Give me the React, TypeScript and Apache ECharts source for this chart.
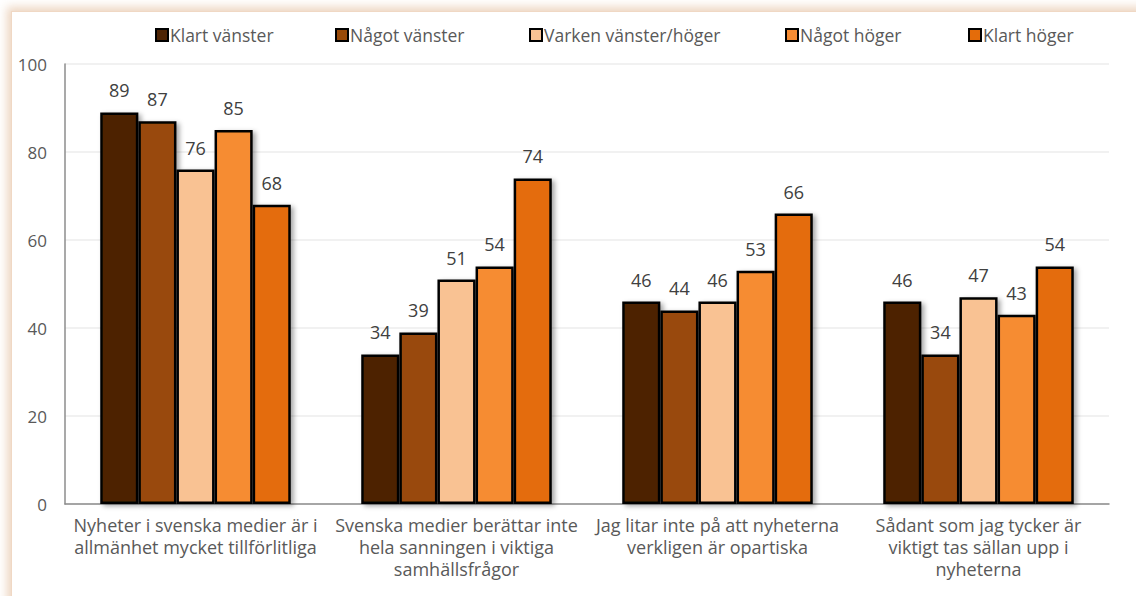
import React, { useEffect, useRef } from "react";
import * as echarts from "echarts";

const categories = [
  "Nyheter i svenska medier är i\nallmänhet mycket tillförlitliga",
  "Svenska medier berättar inte\nhela sanningen i viktiga\nsamhällsfrågor",
  "Jag litar inte på att nyheterna\nverkligen är opartiska",
  "Sådant som jag tycker är\nviktigt tas sällan upp i\nnyheterna",
];
const seriesNames = ["Klart vänster", "Något vänster", "Varken vänster/höger", "Något höger", "Klart höger"];
const klartVanster = [89, 34, 46, 46];
const nagotVanster = [87, 39, 44, 34];
const varken = [76, 51, 46, 47];
const nagotHoger = [85, 54, 53, 43];
const klartHoger = [68, 74, 66, 54];
const colors = ["#4E2404", "#994A08", "#F9C293", "#F68C33", "#E46C0A"];
const yTicks = [0, 20, 40, 60, 80, 100];
const legendLefts = [150, 330, 524, 780, 963];

const FONT = "'Open Sans', 'Noto Sans', sans-serif";

export default function App() {
  const ref = useRef<HTMLDivElement>(null);
  useEffect(() => {
    if (!ref.current) return;
    const chart = echarts.init(ref.current, null, { renderer: "svg" });
    const values = [klartVanster, nagotVanster, varken, nagotHoger, klartHoger];
    chart.setOption({
      animation: false,
      backgroundColor: "transparent",
      textStyle: { fontFamily: FONT },
      legend: seriesNames.map((n, i) => ({
        top: 21,
        left: legendLefts[i],
        itemWidth: 12,
        itemHeight: 12,
        icon: "rect",
        textStyle: { color: "#595959", fontSize: 17.5, fontFamily: FONT, padding: [0, 0, 0, -3] },
        data: [{ name: n, itemStyle: { color: colors[i], borderColor: "#000", borderWidth: 2 } }],
      })),
      grid: { left: 65, right: 27, top: 64, bottom: 92, containLabel: false },
      xAxis: {
        type: "category",
        data: categories,
        axisLine: { lineStyle: { color: "#8c8c8c", width: 1.5 } },
        axisTick: { show: false },
        axisLabel: {
          color: "#595959",
          fontSize: 18,
          lineHeight: 22,
          margin: 10,
          interval: 0,
          fontFamily: FONT,
        },
      },
      yAxis: {
        type: "value",
        min: 0,
        max: 100,
        interval: 20,
        axisLine: { show: true, lineStyle: { color: "#8c8c8c", width: 1.5 } },
        axisTick: { show: false },
        axisLabel: {
          color: "#595959",
          fontSize: 17,
          margin: 18,
          fontFamily: FONT,
          formatter: (v: number) => (yTicks.includes(v) ? String(v) : ""),
        },
        splitLine: { lineStyle: { color: "#ececec", width: 1.5 } },
      },
      series: seriesNames.map((n, i) => ({
        name: n,
        type: "bar",
        data: values[i],
        barGap: "0%",
        barCategoryGap: "27%",
        itemStyle: {
          color: colors[i],
          borderColor: "#000",
          borderWidth: 2.5,
          shadowColor: "rgba(0,0,0,0.35)",
          shadowBlur: 5,
          shadowOffsetX: 3,
          shadowOffsetY: 2,
        },
        label: {
          show: true,
          position: "top",
          distance: 13,
          color: "#404040",
          fontSize: 18,
          fontFamily: FONT,
        },
      })),
    });
    return () => chart.dispose();
  }, []);
  return (
    <div style={{ position: "fixed", left: 0, top: 0, width: 1136, height: 596, background: "#fff", overflow: "hidden" }}>
      <div
        style={{
          position: "absolute",
          left: 11,
          top: 11,
          width: 1200,
          height: 700,
          background: "#fff",
          borderLeft: "1px solid #f0d8c4",
          borderTop: "1px solid #f0d8c4",
          boxShadow: "-4px -4px 9px rgba(225,185,150,0.6)",
        }}
      />
      <div ref={ref} style={{ position: "absolute", left: 0, top: 0, width: 1136, height: 596 }} />
    </div>
  );
}
